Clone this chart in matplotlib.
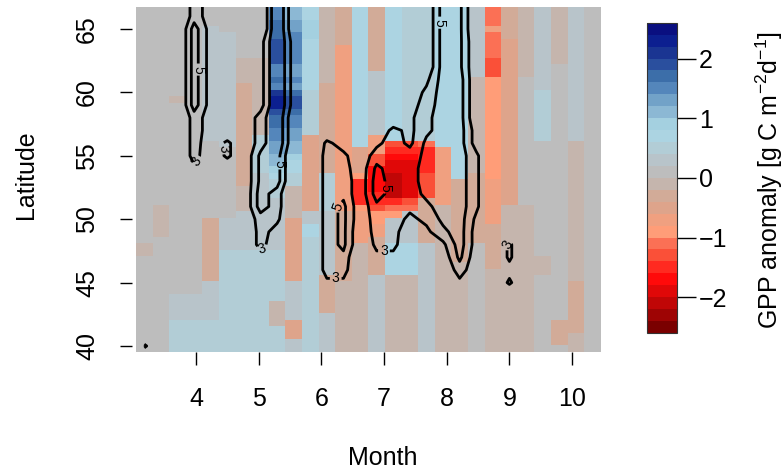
import numpy as np
import matplotlib
matplotlib.use("Agg")
import matplotlib.pyplot as plt
from matplotlib.colors import ListedColormap, BoundaryNorm

plt.rcParams['font.family'] = ['Liberation Sans', 'DejaVu Sans']
plt.rcParams['mathtext.fontset'] = 'custom'
plt.rcParams['mathtext.rm'] = 'Liberation Sans'

# plot window (month of year, latitude)
month_lo, month_hi = 3.045, 10.457
lat_lo, lat_hi = 39.55, 66.75
n_periods = 28          # 8-day composites
n_lat = 54              # half degree bands

# colour classes of the anomaly, 0.2 wide, from -2.6 up to 2.6
class_colors = [
    '#7a0000', '#9e0404', '#c00606', '#e00808', '#ff0a0a', '#ff2a20',
    '#fa5038', '#fb7055', '#ff9d78', '#f0a080', '#dea48b', '#d2ab98',
    '#c5b5ad', '#bdbdbd', '#b8c4ca', '#b2cdd6', '#acd4e2', '#a4d0e0',
    '#8cb8d4', '#72a2c8', '#5486bb', '#3c6ea9', '#2a4f9e', '#1a3592',
    '#0c1f90', '#0a0f80',
]
class_edges = [-2.6, -2.4, -2.2, -2.0, -1.8, -1.6, -1.4, -1.2, -1.0, -0.8,
               -0.6, -0.4, -0.2, 0.0, 0.2, 0.4, 0.6, 0.8, 1.0, 1.2, 1.4,
               1.6, 1.8, 2.0, 2.2, 2.4, 2.6]

# GPP anomaly read per cell, one letter = one colour class
code_values = {
    'M': -2.5, 'L': -2.3, 'K': -2.1, 'J': -1.9, 'I': -1.7, 'H': -1.5,
    'G': -1.3, 'F': -1.1, 'E': -0.9, 'D': -0.7, 'C': -0.5, 'B': -0.3,
    'A': -0.1, '0': 0.1, 'a': 0.3, 'b': 0.5, 'c': 0.7, 'd': 0.9,
    'e': 1.1, 'f': 1.3, 'g': 1.5, 'h': 1.7, 'i': 1.9, 'j': 2.1,
    'k': 2.3, 'l': 2.5,
}

# one string per 8-day period, north (top) to south
gpp_cols = [
    "000000000" "000000000" "000000000" "000000000" "0AA000000" "000000000",
    "000000000" "000000000" "000000000" "0000AAAAA" "000000000" "000000000",
    "000000000" "00000A000" "000000000" "000000000" "000000000" "aaaabbbbb",
    "000000000" "000000000" "000000000" "000000000" "000000000" "aaaabbbbb",
    "000aaaaaa" "aaaaaaaaa" "aaa000000" "000000BBB" "BBBBBBBaa" "aaaabbbbb",
    "0000aaaaa" "aaaaaaaaa" "aaaa00000" "000000aaa" "aabbbbbbb" "bbbbbbbbb",
    "00000000A" "AAABBBBBB" "BBBBBBBBB" "BAAAAaaaa" "aabbbbbbb" "bbbbbbbbb",
    "00000000A" "AAAAAAAAA" "AAbbbbbba" "aaaaaaaaa" "aabbbbbbb" "bbbbbbbbb",
    "gghhhiiii" "gghgjkkih" "hggffeedc" "bbbaaaaaa" "aabbbbbbb" "bAAAAbbbb",
    "eeffggggg" "ffgfhiihg" "gffeedccb" "bAAAAACCC" "CCCCCCCaa" "aaaaCCCaa",
    "ccdddcccc" "ccccbbbbb" "bbCCCCCCC" "CCCCCaacc" "bbbbbbbbb" "bbbbbbbbb",
    "AAAAAAAAA" "AAABBBBBB" "BBBBBBBBb" "bbbbbaaaa" "aaaaaaBBB" "BBBaaaaaa",
    "BBBBBBDDD" "DDDDDDDDD" "DDDDDDDDD" "DDDDDBBBB" "BBBBBBBAA" "AAAAAAAAA",
    "ccccccccc" "ccccccccc" "ccccCCCCE" "HHHHEDDDD" "DAAAAAAAA" "AAAAAAAAA",
    "BBBBBBBBB" "Baaaaaaaa" "aaDDDGGII" "IIHHGEEDD" "BBBBBBaaa" "aaaaaaaaa",
    "ccccccccc" "ccccccccc" "cccGHIJJK" "KKKHFEaaa" "acccccAAA" "AAAAAAAAA",
    "bbbbbbbbb" "bbbbbbbbb" "bbbGHIJJJ" "JJJGFaaaa" "acccccAAA" "AAAAAAAAA",
    "bbbbbbbbb" "bbbbbbbbb" "bbbFHHHHG" "GGGBBBBBB" "Baaaaaaaa" "aaaaaaaaa",
    "ccccccccc" "ccccccccc" "ccccDDDDD" "DDDDAAAAA" "AAAAAAAAA" "AAAAAAAAA",
    "ccccccccc" "ccccccccc" "ccccccccc" "BBBBBBBBB" "BBBBAAAAA" "AAAAAAAAA",
    "aaaaaaaaa" "aaAAAAAAA" "AAAAAAAAB" "BBBBBBBBB" "B00000000" "000000000",
    "FFFDFFFFG" "GGEEEEEEE" "EEEEEEEEE" "DDDDDDDBB" "BBBBBAAAA" "AAAAAAAAA",
    "BBBBBCCCC" "CCCCCCCCC" "CCCCCCCCC" "CCCCAAAAA" "AAAAAAAAA" "AAAAAAAAA",
    "AAAAAAAAA" "AA0000000" "000000000" "0000AAAAA" "AAAAAAAAA" "AAAAAAAAA",
    "aaaaaaaaa" "aaaabbbbb" "bbb000000" "000000000" "000AAA000" "000000000",
    "AAAAAAAAA" "000000000" "000000000" "000000000" "000000000" "0000BBBB0",
    "aaaaaaaaa" "aaaaaaaaa" "aaaAAAAAA" "AAAAAAAAA" "AAAAAAABB" "BBBBBBAAA",
    "000000000" "000000000" "000000000" "000000000" "000000000" "000000000",
]

# contoured field, in half units (hex digit / 2), 1 degree rows 67N..39N
contour_lats = [67, 66, 65, 64, 63, 62, 61, 60, 59, 58, 57, 56, 55, 54, 53,
                52, 51, 50, 49, 48, 47, 46, 45, 44, 43, 42, 41, 40, 39]
field_cols = [
    "0000000000" "0000000000" "0000000" "70",
    "0000000000" "0000000000" "000000000",
    "0000000000" "0000000000" "000000000",
    "88ccccccc888852" "00000000000000",
    "44444444444321" "000000000000000",
    "0000000000" "2772" "000000000000000",
    "000000000" "222222222" "00000000000",
    "000444444888bbbcc8883" "00000000",
    "fffffffffeeeccc887420" "00000000",
    "222444444222" "00000000000000000",
    "0000000000" "0000000000" "000000000",
    "0000000000" "27" "8888888888" "5" "000000",
    "0000000000" "1478" "99" "bbbb" "985" "000000",
    "00000000000" "2" "333333" "22" "000000000",
    "0000000000" "358bcc98875" "00000000",
    "000000000" "37" "8888888" "775" "00000000",
    "111111" "234555" "899875432" "00000000",
    "222222" "5789" "9bbbbb" "97521" "00000000",
    "ccccccccccccccccc" "b9532" "0000000",
    "bbbbbb" "cccccccccccccc" "b85" "000000",
    "111" "2222222" "44" "77777" "5" "44" "33" "0000000",
    "0000000000" "0000000000" "000000000",
    "000000000000000000" "27747" "000000",
    "0000000000" "0000000000" "000000000",
    "0000000000" "0000000000" "000000000",
    "0000000000" "0000000000" "000000000",
    "0000000000" "0000000000" "000000000",
    "0000000000" "0000000000" "000000000",
]
contour_levels = [3, 5]
label_spots = [(4.0, 54.6), (4.05, 61.8), (4.48, 55.6), (5.2, 54.4),
               (5.1, 47.4), (6.23, 51.0), (6.23, 45.5), (6.95, 52.5),
               (7.0, 47.3), (8.04, 65.5), (8.97, 48.0)]

month_ticks = [4, 5, 6, 7, 8, 9, 10]
lat_ticks = [40, 45, 50, 55, 60, 65]
bar_ticks = [-2, -1, 0, 1, 2]

gpp = np.array([[code_values[c] for c in col] for col in gpp_cols]).T
field = np.array([[int(c, 16) / 2.0 for c in col] for col in field_cols]).T

x_edges = np.linspace(month_lo, month_hi, n_periods + 1)
y_edges = np.linspace(lat_hi, lat_lo, n_lat + 1)
x_mid = (x_edges[:-1] + x_edges[1:]) / 2

cmap = ListedColormap(class_colors)
norm = BoundaryNorm(class_edges, cmap.N)

fig = plt.figure(figsize=(7.84, 4.76), dpi=100)
ax = fig.add_axes([0.1735, 0.2611, 0.5927, 0.7246])
mesh = ax.pcolormesh(x_edges, y_edges, gpp, cmap=cmap, norm=norm)

cs = ax.contour(x_mid, contour_lats[::-1], field[::-1], levels=contour_levels,
                colors='black', linewidths=2.0)
ax.clabel(cs, fmt='%d', fontsize=10, inline=True, inline_spacing=2,
          manual=label_spots)

ax.set_xlim(month_lo, month_hi)
ax.set_ylim(lat_lo, lat_hi)
for s in ax.spines.values():
    s.set_visible(False)
ax.spines['left'].set_position(('outward', 3))
ax.set_xticks(month_ticks)
ax.set_yticks(lat_ticks)
ax.tick_params(axis='x', length=9.4, width=1, labelsize=18, pad=16)
ax.tick_params(axis='y', length=8.6, width=1, labelsize=18, pad=15)
for lab in ax.get_yticklabels():
    lab.set_rotation(90)
    lab.set_va('center')

fig.text(383 / 784, 1 - 458 / 476, 'Month', fontsize=18, ha='center', va='center')
fig.text(26 / 784, 1 - 175 / 476, 'Latitude', fontsize=18, ha='center',
         va='center', rotation=90)

cax = fig.add_axes([0.8256, 0.3004, 0.0383, 0.6519])
cb = fig.colorbar(mesh, cax=cax, ticks=bar_ticks)
cb.minorticks_off()
cb.outline.set_linewidth(0.8)
cb.outline.set_edgecolor('#333333')
cax.tick_params(length=13.5, width=1, labelsize=18, pad=2)
fig.text(769 / 784, 1 - 180 / 476, r'GPP anomaly [g C m$^{-2}$d$^{-1}$]',
         fontsize=18, ha='center', va='center', rotation=90)

fig.savefig('out.png', dpi=100)
